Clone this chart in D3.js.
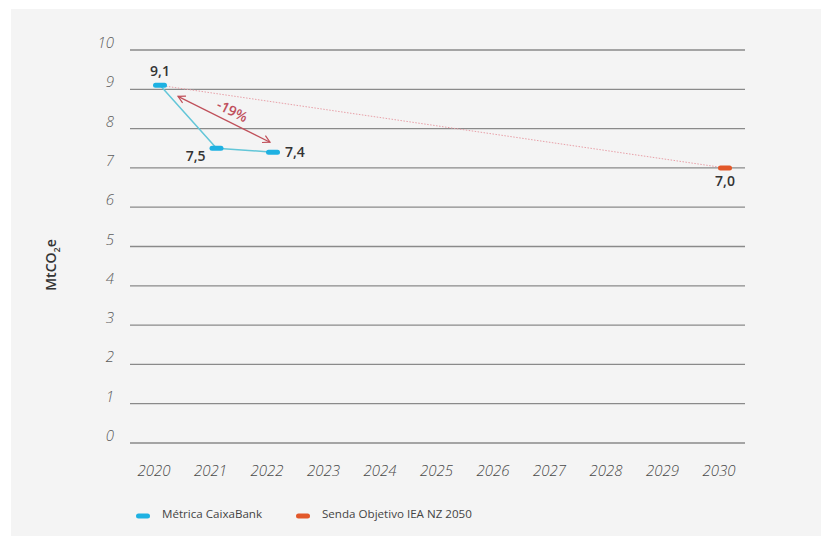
<!DOCTYPE html>
<html><head><meta charset="utf-8">
<script src="https://cdn.jsdelivr.net/npm/d3@7"></script>
<style>
html,body{margin:0;padding:0;background:#fff;}
svg{display:block;}
</style></head>
<body>
<script>
const years = [2020,2021,2022,2023,2024,2025,2026,2027,2028,2029,2030];
const yTicks = [0,1,2,3,4,5,6,7,8,9,10];
const caixaYears = [2020,2021,2022];
const caixaValues = [9.1,7.5,7.4];
const caixaLabels = ["9,1","7,5","7,4"];
const targetYears = [2020,2030];
const targetValues = [9.1,7.0];
const targetLabel = "7,0";
const reductionLabel = "-19%";
const seriesNames = ["Métrica CaixaBank","Senda Objetivo IEA NZ 2050"];
const seriesColors = ["#1eb1e2","#e2582a"];

const W=821,H=536;
const svg=d3.select("body").append("svg").attr("width",W).attr("height",H);
svg.append("rect").attr("x",11).attr("y",9).attr("width",W-11).attr("height",H-9).attr("fill","#f4f4f4");

const x=d3.scaleLinear().domain([2020,2030]).range([160,725]);
const y=d3.scaleLinear().domain([0,10]).range([443,50]);
const font="'Open Sans', 'DejaVu Sans', sans-serif";

// gridlines
svg.append("g").selectAll("line").data(yTicks).join("line")
  .attr("x1",130).attr("x2",745).attr("y1",d=>y(d)).attr("y2",d=>y(d))
  .attr("stroke","#8a8a8a").attr("stroke-width",1.3);
// y tick labels
svg.append("g").selectAll("text").data(yTicks).join("text")
  .attr("x",114).attr("y",d=>y(d)-2).attr("text-anchor","end")
  .attr("font-family",font).attr("font-style","italic").attr("font-weight",300).attr("font-size",15)
  .attr("fill","#5c5c5c").text(d=>d);
// x tick labels
svg.append("g").selectAll("text").data(years).join("text")
  .attr("x",d=>x(d)-6).attr("y",476).attr("text-anchor","middle")
  .attr("font-family",font).attr("font-style","italic").attr("font-weight",300).attr("font-size",15)
  .attr("fill","#4a4a4a").text(d=>d);
// y axis title
svg.append("text").attr("transform","translate(56,265) rotate(-90)")
  .attr("text-anchor","middle").attr("font-family",font).attr("font-size",14).attr("font-weight",600).attr("fill","#333")
  .call(t=>{t.append("tspan").text("MtCO");t.append("tspan").attr("font-size",9).attr("dy",4).text("2");t.append("tspan").attr("dy",-4).text("e");});

// target dotted line
svg.append("path").datum(targetYears.map((d,i)=>[d,targetValues[i]]))
  .attr("d",d3.line().x(d=>x(d[0])).y(d=>y(d[1])))
  .attr("fill","none").attr("stroke","#e8a0a8").attr("stroke-width",1).attr("stroke-dasharray","1.5,1.5");

// caixa line
svg.append("path").datum(caixaYears.map((d,i)=>[d,caixaValues[i]]))
  .attr("d",d3.line().x(d=>x(d[0])).y(d=>y(d[1])))
  .attr("fill","none").attr("stroke","#63c6d8").attr("stroke-width",1.5);

// markers
function marker(cx,cy,c){svg.append("rect").attr("x",cx-7).attr("y",cy-2.5).attr("width",14).attr("height",5).attr("rx",2.5).attr("fill",c);}
caixaYears.forEach((d,i)=>marker(x(d),y(caixaValues[i]),seriesColors[0]));
marker(x(2030),y(targetValues[1]),seriesColors[1]);

// data labels
const lbl=(tx,ty,t,anchor)=>svg.append("text").attr("x",tx).attr("y",ty).attr("text-anchor",anchor)
  .attr("font-family",font).attr("font-size",14).attr("font-weight",600).attr("fill","#333").text(t);
lbl(x(2020),y(caixaValues[0])-9,caixaLabels[0],"middle");
lbl(x(2021)-11,y(caixaValues[1])+13,caixaLabels[1],"end");
lbl(x(2022)+12,y(caixaValues[2])+5,caixaLabels[2],"start");
lbl(x(2030),y(targetValues[1])+18,targetLabel,"middle");

// reduction arrow
const ax1=x(2020)+18, ay1=y(caixaValues[0])+11, ax2=x(2022)-3, ay2=y(caixaValues[2])-10;
const arrowC="#c0505a";
svg.append("line").attr("x1",ax1).attr("y1",ay1).attr("x2",ax2).attr("y2",ay2).attr("stroke",arrowC).attr("stroke-width",1.2);
const ang=Math.atan2(ay2-ay1,ax2-ax1);
function head(px,py,a){
  const L=8,s=0.5;
  const p=[[px+L*Math.cos(a+s),py+L*Math.sin(a+s)],[px,py],[px+L*Math.cos(a-s),py+L*Math.sin(a-s)]];
  svg.append("path").attr("d",d3.line()(p)).attr("fill","none").attr("stroke",arrowC).attr("stroke-width",1.2);
}
head(ax1,ay1,ang);
head(ax2,ay2,ang+Math.PI);
svg.append("text").attr("transform",`translate(${(ax1+ax2)/2+6},${(ay1+ay2)/2-4}) rotate(${ang*180/Math.PI})`)
  .attr("text-anchor","middle").attr("font-family",font).attr("font-size",14).attr("font-weight",600).attr("fill","#c04f5c").text(reductionLabel);

// legend
const leg=[[143,seriesNames[0],seriesColors[0]],[303,seriesNames[1],seriesColors[1]]];
leg.forEach(([lx,t,c])=>{
  svg.append("rect").attr("x",lx-7).attr("y",516-2.5).attr("width",14).attr("height",5).attr("rx",2.5).attr("fill",c);
  svg.append("text").attr("x",lx+19).attr("y",518).attr("font-family",font).attr("font-size",11.6).attr("fill","#444").text(t);
});
</script>
</body></html>
